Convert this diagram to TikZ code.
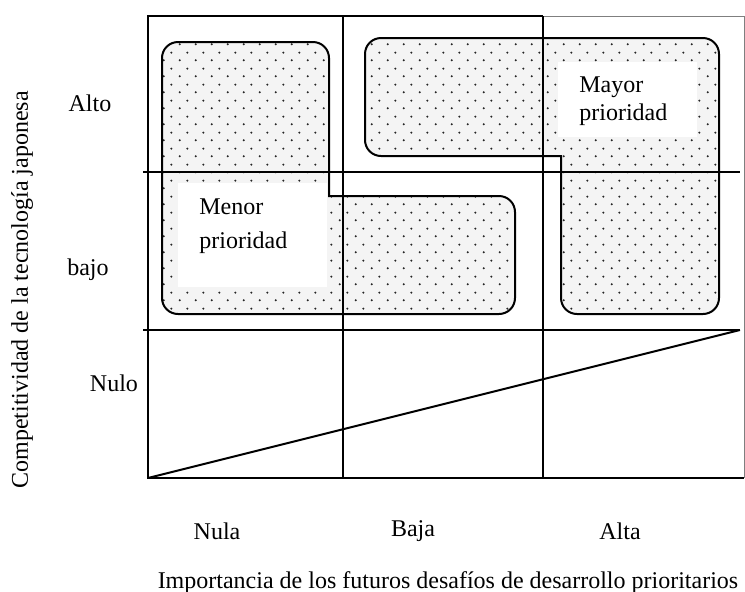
\documentclass[tikz,border=0pt]{standalone}
\usepackage{fontspec}
\setmainfont{Liberation Serif}
\usetikzlibrary{patterns.meta}
\definecolor{matInk}{HTML}{000000}
\definecolor{matFrame}{HTML}{7F7F7F}
\definecolor{matDot}{HTML}{262626}
\definecolor{matDotFill}{HTML}{F4F4F4}
\tikzdeclarepattern{
  name=matstipple,
  type=uncolored,
  bottom left={(0pt,0pt)},
  top right={(8pt,8pt)},
  tile size={(8pt,8pt)},
  code={
    \fill (2pt,2pt) circle (0.6pt);
    \fill (6pt,6pt) circle (0.6pt);
  }
}
\tikzset{
  mat/base/.style={font=\fontsize{12}{14}\selectfont, text=matInk},
  mat/grid/.style={draw=matInk, line width=1pt},
  mat/frame/.style={draw=matFrame, line width=0.5pt},
  mat/zone/.style={draw=matInk, line width=1pt, preaction={fill=matDotFill},
    pattern=matstipple, pattern color=matDot},
  mat/blank/.style={fill=white},
  mat/level/.style={mat/base, inner sep=0pt},
  mat/tag/.style={mat/base, align=left, inner sep=0pt, anchor=west},
  mat/title/.style={mat/base, inner sep=0pt},
}

\begin{document}
\begin{tikzpicture}[x=0.5pt, y=-0.5pt,
    zone/.style={mat/zone},
    grid/.style={mat/grid},
    level/.style={mat/level},
]
\useasboundingbox (0,0) rectangle (745,591);

% ===== Priority zones (dotted) =====
\path[zone] (420,196) [rounded corners=8pt] -- (515,196) -- (515,314)
  -- (162,314) -- (162,42) -- (329,42) [sharp corners] -- (329,196) -- cycle;
\path[zone] (460,38) [rounded corners=8pt] -- (719,38) -- (719,314)
  -- (561,314) [sharp corners] -- (561,156) [rounded corners=8pt] -- (365,156)
  -- (365,38) -- cycle;

% white label boxes
\fill[mat/blank] (178,183) rectangle (327,287);
\fill[mat/blank] (558,62) rectangle (697,137);
\node[mat/tag, font=\fontsize{12}{17}\selectfont] (menor) at (199,226) {Menor\\prioridad};
\node[mat/tag] (mayor) at (579,101) {Mayor\\prioridad};

% ===== Matrix grid =====
\draw[mat/frame] (543,16) -- (744,16) -- (744,478);
\draw[grid] (543,16) -- (148,16) -- (148,478) -- (744,478);
\draw[grid] (143,172) -- (740,172);
\draw[grid] (143,330) -- (740,330);
\draw[grid] (343,16) -- (343,478);
\draw[grid] (543,16) -- (543,478);
\draw[grid] (148,478) -- (740,330);

% ===== Axis levels =====
\node[level] (alto) at (90,103) {Alto};
\node[level] (bajo) at (88,270) {bajo};
\node[level] (nulo) at (114,383) {Nulo};

\node[level, anchor=base] (nula) at (217,539) {Nula};
\node[level, anchor=base] (baja) at (413,536) {Baja};
\node[level, anchor=base] (alta) at (620,539) {Alta};

% Axis titles
\node[mat/title, anchor=base] (xtitle) at (448,588)
  {Importancia de los futuros desafíos de desarrollo prioritarios};
\node[mat/title, rotate=90] (ytitle) at (22,290)
  {Competitividad de la tecnología japonesa};

\end{tikzpicture}
\end{document}
